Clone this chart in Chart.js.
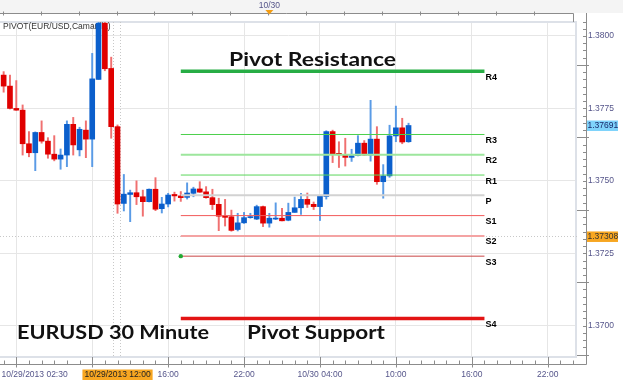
<!DOCTYPE html>
<html><head><meta charset="utf-8">
<script src="https://cdn.jsdelivr.net/npm/chart.js@4"></script>
<style>html,body{margin:0;padding:0;background:#fff;}canvas{display:block;}</style>
</head><body>
<canvas id="c" width="623" height="383" style="width:623px;height:383px"></canvas>
<script>
// ---- data (hours since 10/29/2013 00:00, 30-minute bars) ----
const times = [3,3.5,4,4.5,5,5.5,6,6.5,7,7.5,8,8.5,9,9.5,10,10.5,11,11.5,12,12.5,13,13.5,14,14.5,15,15.5,16,16.5,17,17.5,18,18.5,19,19.5,20,20.5,21,21.5,22,22.5,23,23.5,24,24.5,25,25.5,26,26.5,27,27.5,28,28.5,29,29.5,30,30.5,31,31.5,32,32.5,33,33.5,34,34.5,35];
const opens = [1.37865,1.37827,1.37750,1.37744,1.37628,1.37597,1.37667,1.37637,1.37592,1.37575,
1.37589,1.37695,1.37607,1.37675,1.37644,1.37850,1.38044,1.37888,1.37687,1.37422,
1.37453,1.37459,1.37445,1.37428,1.37471,1.37404,1.37420,1.37453,1.37448,1.37443,
1.37457,1.37472,1.37462,1.37442,1.37419,1.37378,1.37376,1.37332,1.37355,1.37373,
1.37368,1.37411,1.37354,1.37368,1.37371,1.37364,1.37391,1.37407,1.37436,1.37419,
1.37411,1.37446,1.37670,1.37595,1.37589,1.37581,1.37587,1.37630,1.37589,1.37644,
1.37497,1.37517,1.37655,1.37683,1.37635];
const highs = [1.37877,1.37865,1.37846,1.37762,1.37670,1.37669,1.37707,1.37649,1.37656,1.37610,
1.37707,1.37719,1.37685,1.37707,1.37940,1.38050,1.38048,1.37927,1.37693,1.37522,
1.37468,1.37500,1.37468,1.37472,1.37511,1.37443,1.37457,1.37461,1.37463,1.37493,
1.37478,1.37497,1.37480,1.37471,1.37440,1.37436,1.37399,1.37388,1.37391,1.37388,
1.37416,1.37413,1.37388,1.37424,1.37405,1.37423,1.37444,1.37457,1.37458,1.37427,
1.37448,1.37673,1.37675,1.37635,1.37647,1.37609,1.37656,1.37639,1.37778,1.37687,
1.37556,1.37692,1.37758,1.37716,1.37699];
const lows = [1.37806,1.37748,1.37743,1.37589,1.37583,1.37535,1.37630,1.37578,1.37569,1.37540,
1.37549,1.37589,1.37586,1.37580,1.37549,1.37850,1.37880,1.37647,1.37388,1.37396,
1.37359,1.37418,1.37378,1.37427,1.37397,1.37389,1.37410,1.37430,1.37429,1.37437,
1.37445,1.37460,1.37440,1.37401,1.37328,1.37344,1.37326,1.37327,1.37353,1.37371,
1.37366,1.37342,1.37340,1.37366,1.37362,1.37362,1.37391,1.37384,1.37408,1.37401,
1.37363,1.37437,1.37563,1.37546,1.37551,1.37567,1.37586,1.37588,1.37568,1.37488,
1.37440,1.37512,1.37635,1.37628,1.37633];
const closes = [1.37827,1.37750,1.37744,1.37628,1.37597,1.37667,1.37637,1.37592,1.37575,1.37589,
1.37695,1.37624,1.37678,1.37644,1.37852,1.38044,1.37887,1.37687,1.37420,1.37454,
1.37459,1.37445,1.37428,1.37471,1.37402,1.37420,1.37451,1.37448,1.37442,1.37458,
1.37472,1.37461,1.37442,1.37418,1.37378,1.37374,1.37329,1.37355,1.37373,1.37376,
1.37411,1.37354,1.37371,1.37371,1.37362,1.37391,1.37407,1.37436,1.37419,1.37411,
1.37448,1.37670,1.37592,1.37590,1.37581,1.37587,1.37630,1.37589,1.37644,1.37497,
1.37517,1.37655,1.37683,1.37634,1.37691];

const pivotNames  = ['R4','R3','R2','R1','P','S1','S2','S3','S4'];
const pivotValues = [1.37878,1.37660,1.37590,1.37520,1.37450,1.37380,1.37310,1.37240,1.37025];
const pivotStart = 17, pivotEnd = 41;           // 10/29 17:00 -> 10/30 17:00

const xTickHours  = [16,22,28,34,40,46];
const xTickLabels = ['16:00','22:00','10/30 04:00','10:00','16:00','22:00'];
const firstBarLabel = '10/29/2013 02:30';
const crossTime = 12, crossTimeLabel = '10/29/2013 12:00', crossPrice = 1.37308;
const topDateHour = 24, topDateLabel = '10/30';
const yTickStep = 0.0025;

// ---- styles ----
const pivotColors = ['#27ad45','#4cd04c','#9de69d','#5ad65a','#d2d2d2','#f25a5a','#f4a3a3','#c94545','#e31414'];
const pivotWidths = [3.5,1,2,1,2,1,2,1,3.5];
const UP='#0b5fcc', DOWN='#e00000', UPW='#5a9be6', DOWNW='#f07070';
const FONT='"Liberation Sans", Arial, sans-serif';
const LABC='#55558a';

const bodyData = times.map((t,i)=>({x:t, y:[opens[i], closes[i]]}));
const wickData = times.map((t,i)=>({x:t, y:[lows[i], highs[i]]}));
const isUp = i => closes[i] >= opens[i];

const datasets = [];
pivotValues.forEach((v,i)=>{
  datasets.push({type:'line', data:[{x:pivotStart,y:v},{x:pivotEnd,y:v}],
    borderColor:pivotColors[i], borderWidth:pivotWidths[i],
    pointRadius: pivotNames[i]==='S3' ? [2.2,0] : 0, pointHoverRadius:0,
    pointBackgroundColor:'#22aa33', pointBorderWidth:0, order:0});
});
datasets.push({type:'bar', data:bodyData, grouped:false, barThickness:5, minBarLength:1,
  backgroundColor:c=>isUp(c.dataIndex)?UP:DOWN, borderWidth:0, order:1});
datasets.push({type:'bar', data:wickData, grouped:false, barThickness:1.3,
  backgroundColor:c=>isUp(c.dataIndex)?UPW:DOWNW, borderWidth:0, order:2});

const deco = {
  id:'deco',
  beforeDraw(chart){
    const ctx=chart.ctx;
    ctx.save();
    ctx.fillStyle='#fff'; ctx.fillRect(0,0,chart.width,chart.height);
    ctx.fillStyle='#f4f4f4'; ctx.fillRect(0,0,chart.width,13);
    ctx.restore();
  },
  beforeDatasetsDraw(chart){
    const {ctx, chartArea:a, scales:{x,y}} = chart;
    ctx.save();
    ctx.strokeStyle='#dde1e8'; ctx.lineWidth=2;
    ctx.strokeRect(a.left-1, a.top, a.right-a.left, a.bottom-a.top);
    ctx.strokeStyle='#c8c8c8'; ctx.lineWidth=1; ctx.setLineDash([1,2]);
    const yc=Math.round(y.getPixelForValue(crossPrice))+0.5;
    ctx.beginPath(); ctx.moveTo(a.left,yc); ctx.lineTo(a.right,yc); ctx.stroke();
    [x.getPixelForValue(crossTime)-4.5, x.getPixelForValue(crossTime)+2].forEach(px=>{
      const xx=Math.round(px)+0.5;
      ctx.beginPath(); ctx.moveTo(xx,a.top); ctx.lineTo(xx,a.bottom); ctx.stroke();
    });
    ctx.setLineDash([]);
    ctx.fillStyle='#333'; ctx.font='8.5px '+FONT; ctx.textBaseline='middle'; ctx.textAlign='left';
    ctx.fillText('PIVOT(EUR/USD,Camarilla)', 3, 26.5);
    ctx.restore();
  },
  afterDatasetsDraw(chart){
    const {ctx, scales:{x,y}} = chart;
    ctx.save();
    ctx.fillStyle='#000'; ctx.font='bold 9px '+FONT; ctx.textBaseline='top'; ctx.textAlign='left';
    const xe=x.getPixelForValue(pivotEnd);
    pivotValues.forEach((v,i)=>{ ctx.fillText(pivotNames[i], xe+1, y.getPixelForValue(v)+1.5); });
    const big=(t,l,b,w)=>{
      ctx.font='bold 18px Lato, "Open Sans", sans-serif'; ctx.textBaseline='alphabetic';
      const m=ctx.measureText(t).width;
      ctx.save(); ctx.translate(l,b); ctx.scale(w/m,1); ctx.fillStyle='#111'; ctx.fillText(t,0,0); ctx.restore();
    };
    big('Pivot Resistance', 229, 65.5, 167);
    big('EURUSD 30 Minute', 17, 339, 192);
    big('Pivot Support', 247, 339, 138);
    ctx.restore();
  },
  afterDraw(chart){
    const {ctx, chartArea:a, scales:{x,y}} = chart;
    ctx.save();
    ctx.strokeStyle='#8c8c8c'; ctx.lineWidth=1;
    const axX=586.5, axY=364.5;
    ctx.beginPath(); ctx.moveTo(0,13.5); ctx.lineTo(573.5,13.5); ctx.lineTo(573.5,22); ctx.stroke();
    for(let h=3; h<=48; h+=3){ const px=Math.round(x.getPixelForValue(h)-1)+0.5; if(px>572) break;
      ctx.beginPath(); ctx.moveTo(px,11.5); ctx.lineTo(px,15.5); ctx.stroke(); }
    ctx.beginPath(); ctx.moveTo(axX,13); ctx.lineTo(axX,axY); ctx.lineTo(0,axY); ctx.stroke();
    for(let k=0;k<=60;k++){ const v=1.3685+k*0.00025; const py=y.getPixelForValue(v);
      if(py<a.top-1||py>a.bottom) continue; const yy=Math.round(py)+0.5;
      const major = k%10===2;
      ctx.beginPath(); ctx.moveTo(major?a.right:axX-3.5,yy); ctx.lineTo(major?axX+2.5:axX,yy); ctx.stroke(); }
    for(let h=3; h<=48; h++){ const px=x.getPixelForValue(h); if(px<0||px>a.right) continue;
      const xx=Math.round(px)+0.5; const major=h%6===4;
      ctx.beginPath(); ctx.moveTo(xx,major?a.bottom:axY-4); ctx.lineTo(xx,major?axY+3:axY); ctx.stroke(); }
    ctx.font='8.5px '+FONT; ctx.textBaseline='middle';
    ctx.fillStyle=LABC; ctx.textAlign='left'; ctx.fillText(firstBarLabel, 1.5, 375);
    const cx=x.getPixelForValue(crossTime); ctx.textAlign='center';
    const tw=ctx.measureText(crossTimeLabel).width;
    ctx.fillStyle='#f7a621'; ctx.fillRect(cx-tw/2-2, 369.5, tw+4, 10.5);
    ctx.fillStyle='#222'; ctx.fillText(crossTimeLabel, cx, 375);
    const dx=x.getPixelForValue(topDateHour);
    ctx.fillStyle=LABC; ctx.fillText(topDateLabel, dx, 5.5);
    ctx.fillStyle='#f39c12'; ctx.beginPath(); ctx.moveTo(dx-4,10); ctx.lineTo(dx+4,10); ctx.lineTo(dx,14.5); ctx.closePath(); ctx.fill();
    ctx.textAlign='left';
    const box=(v,bg,fg)=>{ const py=y.getPixelForValue(v); const t=v.toFixed(5);
      ctx.fillStyle=bg; ctx.fillRect(587, py-5, 31, 10.5); ctx.fillStyle=fg; ctx.fillText(t, 587.5, py+0.5); };
    box(closes[closes.length-1], '#7fd3fb', '#1a2a6a');
    box(crossPrice, '#f7a621', '#333');
    ctx.restore();
  }
};

new Chart(document.getElementById('c'), {
  type:'bar',
  data:{datasets},
  options:{
    responsive:false, animation:false, devicePixelRatio:1,
    layout:{autoPadding:false, padding:{left:0, right:0, top:22, bottom:0}},
    plugins:{legend:{display:false}, tooltip:{enabled:false}},
    scales:{
      x:{type:'linear', min:2.712, max:48.314, offset:false,
        grid:{offset:false, drawTicks:false, color:c=>(c.tick && c.tick.value%6===4)?'#e6e6e6':'rgba(0,0,0,0)', lineWidth:1},
        border:{display:false},
        afterBuildTicks:s=>{ const t=[]; for(let h=3;h<=48;h++) t.push({value:h}); s.ticks=t; },
        afterFit:s=>{ s.height=26; s.paddingLeft=0; s.paddingRight=0; },
        ticks:{autoSkip:false, maxRotation:0, padding:13, color:LABC, font:{family:FONT, size:8.5},
          callback:v=>{ const i=xTickHours.indexOf(v); return i>=0?xTickLabels[i]:''; }}
      },
      y:{type:'linear', position:'right', min:1.368919, max:1.380483,
        grid:{drawTicks:false, color:'#e6e6e6'}, border:{display:false},
        afterFit:s=>{ s.width=46; s.paddingTop=0; s.paddingBottom=0; },
        ticks:{stepSize:yTickStep, includeBounds:false, padding:11, color:LABC, font:{family:FONT, size:8.5},
          callback:v=>Number(v).toFixed(4)}
      }
    }
  },
  plugins:[deco]
});
</script>
</body></html>
